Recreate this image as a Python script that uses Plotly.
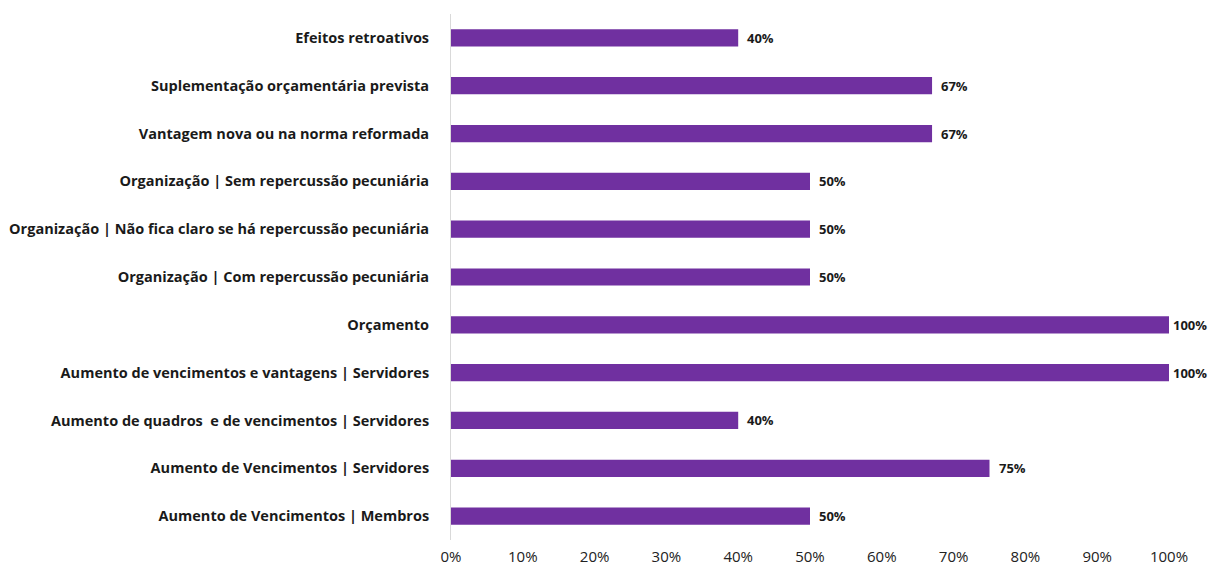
import plotly.graph_objects as go

# Categories listed bottom-to-top
categories = [
    "Aumento de Vencimentos | Membros",
    "Aumento de Vencimentos | Servidores",
    "Aumento de quadros  e de vencimentos | Servidores",
    "Aumento de vencimentos e vantagens | Servidores",
    "Orçamento",
    "Organização | Com repercussão pecuniária",
    "Organização | Não fica claro se há repercussão pecuniária",
    "Organização | Sem repercussão pecuniária",
    "Vantagem nova ou na norma reformada",
    "Suplementação orçamentária prevista",
    "Efeitos retroativos",
]
values = [50, 75, 40, 100, 100, 50, 50, 50, 67, 67, 40]
tick_values = [0, 10, 20, 30, 40, 50, 60, 70, 80, 90, 100]
tick_labels = [f"{v}%" for v in tick_values]

BAR_COLOR = "#7030A0"
FONT = "Open Sans"

fig = go.Figure(
    go.Bar(
        x=values,
        y=categories,
        orientation="h",
        marker=dict(color=BAR_COLOR, line=dict(width=0)),
        width=0.36,
        hoverinfo="skip",
    )
)

# Value labels just past the end of each bar (tighter at the right edge)
for cat, val in zip(categories, values):
    fig.add_annotation(
        x=val, y=cat, text=f"<b>{val}%</b>", showarrow=False,
        xanchor="left", yanchor="middle", xshift=2 if val >= 100 else 7,
        font=dict(family=FONT, size=13, color="#1a1a1a"),
    )

fig.update_layout(
    width=1212, height=565,
    margin=dict(l=451, r=43, t=14, b=25),
    plot_bgcolor="white", paper_bgcolor="white",
    showlegend=False,
    font=dict(family=FONT, color="#1a1a1a"),
)
fig.update_xaxes(
    range=[0, 100], tickvals=tick_values, ticktext=tick_labels,
    showgrid=False, zeroline=False, showline=False, ticks="",
    ticklabelstandoff=6, automargin=False,
    tickfont=dict(family=FONT, size=15, color="#222"),
    fixedrange=True,
)
fig.update_yaxes(
    type="category", categoryorder="array", categoryarray=categories,
    range=[-0.5, len(categories) - 0.5],
    showgrid=False, zeroline=False,
    showline=True, linecolor="#D9D9D9", linewidth=1,
    ticks="", ticklabelstandoff=18, automargin=False,
    tickfont=dict(family=FONT, size=14.5, color="#1a1a1a", weight="bold"),
    fixedrange=True,
)

fig.write_html("out.html")
